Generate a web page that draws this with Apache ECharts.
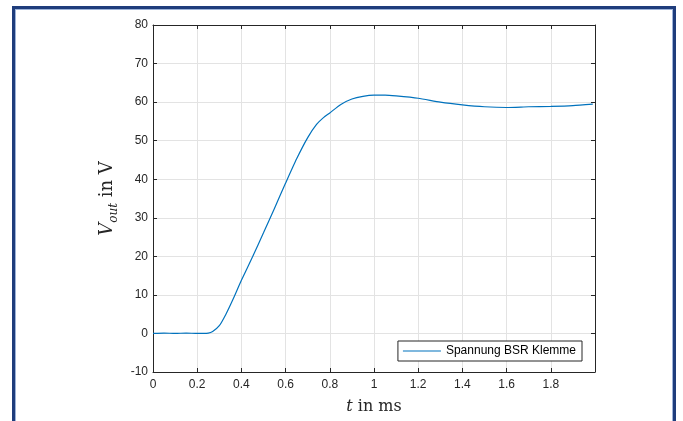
<!DOCTYPE html>
<html>
<head>
<meta charset="utf-8">
<script src="https://cdn.jsdelivr.net/npm/echarts@6/dist/echarts.min.js"></script>
<style>
html,body{margin:0;padding:0;background:#fff;}
#wrap{position:relative;width:683px;height:421px;overflow:hidden;background:#fff;}
#chart{position:absolute;left:0;top:0;width:683px;height:421px;}
#frame{position:absolute;left:12px;top:6px;width:658px;height:440px;border:3px solid #1f3d7c;border-bottom:none;box-shadow:inset 1px 1px 0 #9db3d8, inset -1px 0 0 #9db3d8;pointer-events:none;}
</style>
</head>
<body>
<div id="wrap">
<div id="chart"></div>
<div id="frame"></div>
</div>
<script>
// time in ms
var timeMs = [0,0.05,0.1,0.15,0.2,0.25,0.27,0.3,0.33,0.36,0.4,0.45,0.5,0.55,0.6,0.65,0.7,0.74,0.77,0.8,0.85,0.9,0.95,1.0,1.05,1.1,1.2,1.3,1.4,1.5,1.6,1.7,1.8,1.9,1.99];
// output voltage in V
var voltage = [0,0.1,0,0.1,0,0.1,0.5,2,5,8.6,13.8,19.8,26.1,32.5,39,45.3,50.8,54.2,55.9,57.2,59.4,60.8,61.5,61.8,61.8,61.6,61.0,60.0,59.3,58.8,58.6,58.8,58.9,59.1,59.5];
var seriesName = 'Spannung BSR Klemme';
var xTicks = [0,0.2,0.4,0.6,0.8,1,1.2,1.4,1.6,1.8];
var yTicks = [-10,0,10,20,30,40,50,60,70,80];

var data = timeMs.map(function(t,i){return [t, voltage[i]];});
var axisColor = '#262626';
var tickFont = {color:'#262626', fontSize:12, fontFamily:'Liberation Sans, Arial, sans-serif'};

var chart = echarts.init(document.getElementById('chart'), null, {renderer:'canvas'});
chart.setOption({
  animation:false,
  backgroundColor:'#fff',
  grid:{left:153, right:88, top:25, bottom:49, containLabel:false},
  legend:{
    data:[seriesName], right:101, top:341, orient:'horizontal',
    backgroundColor:'#fff', borderColor:'#262626', borderWidth:1, borderRadius:0,
    padding:[4,6,4,5], itemWidth:38, itemHeight:10, itemGap:4,
    icon:'path://M0,5 L38,5 L38,6 L0,6 Z',
    textStyle:{color:'#000', fontSize:12, fontFamily:'Liberation Sans, Arial, sans-serif'}
  },
  xAxis:[{
    type:'value', min:0, max:2, interval:0.2, position:'bottom',
    name:'{i|t}{r| in ms}', nameLocation:'middle', nameGap:27,
    nameTextStyle:{rich:{i:{fontFamily:'DejaVu Serif, serif', fontStyle:'italic', fontSize:16, color:'#262626'}, r:{fontFamily:'DejaVu Serif, serif', fontSize:16, color:'#262626'}}},
    axisLine:{show:true, onZero:false, lineStyle:{color:axisColor, width:1}},
    axisTick:{show:true, inside:true, length:4, lineStyle:{color:axisColor}},
    axisLabel:Object.assign({margin:7, formatter:function(v){return xTicks.indexOf(Math.round(v*10)/10)>=0 && v<1.99 ? String(Math.round(v*10)/10) : '';}}, tickFont),
    splitLine:{show:true, lineStyle:{color:'#e3e3e3', width:1}}
  },{
    type:'value', min:0, max:2, interval:0.2, position:'top',
    axisLine:{show:true, onZero:false, lineStyle:{color:axisColor, width:1}},
    axisTick:{show:true, inside:true, length:4, lineStyle:{color:axisColor}},
    axisLabel:{show:false}, splitLine:{show:false}
  }],
  yAxis:[{
    type:'value', min:-10, max:80, interval:10, position:'left',
    name:'{i|V}{s|out}{r| in V}', nameLocation:'middle', nameGap:32, nameRotate:90,
    nameTextStyle:{rich:{
      i:{fontFamily:'DejaVu Serif, serif', fontStyle:'italic', fontSize:18, lineHeight:24, color:'#262626'},
      s:{fontFamily:'DejaVu Serif, serif', fontStyle:'italic', fontSize:12, lineHeight:12, color:'#262626', verticalAlign:'bottom'},
      r:{fontFamily:'DejaVu Serif, serif', fontSize:18, lineHeight:24, color:'#262626'}}},
    axisLine:{show:true, onZero:false, lineStyle:{color:axisColor, width:1}},
    axisTick:{show:true, inside:true, length:4, lineStyle:{color:axisColor}},
    axisLabel:Object.assign({margin:5, formatter:function(v){return yTicks.indexOf(v)>=0 ? String(v) : '';}}, tickFont),
    splitLine:{show:true, lineStyle:{color:'#e3e3e3', width:1}}
  },{
    type:'value', min:-10, max:80, interval:10, position:'right',
    axisLine:{show:true, onZero:false, lineStyle:{color:axisColor, width:1}},
    axisTick:{show:true, inside:true, length:4, lineStyle:{color:axisColor}},
    axisLabel:{show:false}, splitLine:{show:false}
  }],
  series:[{
    name:seriesName, type:'line', data:data, xAxisIndex:0, yAxisIndex:0,
    showSymbol:false, smooth:0.2, color:'#0072BD',
    lineStyle:{color:'#0072BD', width:1.2}
  }]
});
</script>
</body>
</html>
